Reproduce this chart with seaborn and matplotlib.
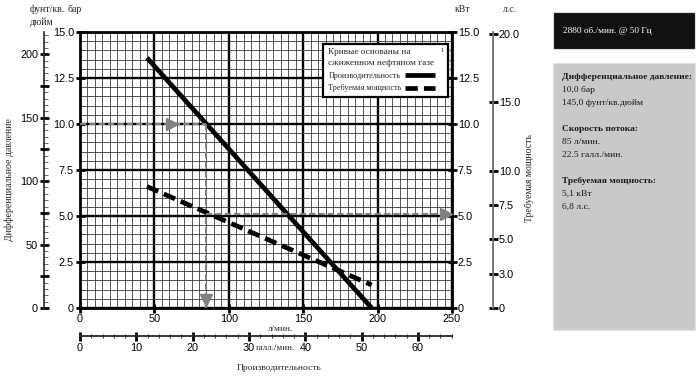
import matplotlib
matplotlib.use("Agg")
import matplotlib.pyplot as plt
import seaborn as sns
import pandas as pd
from matplotlib.ticker import MultipleLocator, FixedLocator, FixedFormatter, NullFormatter
from matplotlib.patches import Rectangle

sns.set_theme(style="white")
plt.rcParams['font.family'] = ['Liberation Sans', 'DejaVu Sans']
SERIF = ['Liberation Serif', 'DejaVu Serif']

# ---- data ----
flow_lpm = [45, 196]
pressure_bar = [13.6, 0.0]
power_kw = [6.6, 1.25]
duty_flow = 85
duty_bar = 10.0
duty_kw = 5.1

flow_ticks = [0, 50, 100, 150, 200, 250]
bar_ticks = [0, 2.5, 5, 7.5, 10, 12.5, 15]
bar_labels = ["0", "2.5", "5.0", "7.5", "10.0", "12.5", "15.0"]
psi_ticks = [0, 50, 100, 150, 200]
psi_mid_ticks = [25, 75, 125, 175]
hp_ticks = [0, 2.5, 5, 7.5, 10, 15, 20]
hp_labels = ["0", "3.0", "5.0", "7.5", "10.0", "15.0", "20.0"]
gal_ticks = [0, 10, 20, 30, 40, 50, 60]

BAR_TO_PSI = 14.5038
KW_TO_HP = 1.341
LPM_TO_GPM = 1 / 3.78541

W, H = 700, 376
PX = 0.72  # points per pixel at dpi 100
TL = 9 * PX
NUM = 7.8
fig = plt.figure(figsize=(W / 100, H / 100), dpi=100)
ax = fig.add_axes([80 / W, (H - 308) / H, 372 / W, 276 / H])
ax.set_xlim(0, 250)
ax.set_ylim(0, 15)

# grid
ax.xaxis.set_minor_locator(MultipleLocator(5))
ax.yaxis.set_minor_locator(MultipleLocator(0.5))
ax.grid(which='minor', color='#3a3a3a', lw=0.6)
ax.grid(which='major', color='black', lw=1.7)
ax.set_axisbelow(True)
for s in ax.spines.values():
    s.set_color('black')
    s.set_linewidth(2)

ax.xaxis.set_major_locator(FixedLocator(flow_ticks))
ax.xaxis.set_major_formatter(FixedFormatter([str(t) for t in flow_ticks]))
ax.yaxis.set_major_locator(FixedLocator(bar_ticks))
ax.yaxis.set_major_formatter(FixedFormatter(bar_labels))
ax.tick_params(which='major', direction='inout', length=TL, width=2, color='black',
               labelsize=NUM, pad=1, labelcolor='black')
ax.tick_params(which='minor', length=0)

# kW axis (right, same scale)
ax_kw = ax.twinx()
ax_kw.set_ylim(0, 15)
ax_kw.yaxis.set_major_locator(FixedLocator(bar_ticks))
ax_kw.yaxis.set_major_formatter(FixedFormatter(bar_labels))
ax_kw.tick_params(which='major', direction='inout', length=TL, width=2, color='black',
                  labelsize=NUM, pad=1, labelcolor='black')
for k, s in ax_kw.spines.items():
    s.set_visible(False)

# curves
df_perf = pd.DataFrame({"flow": flow_lpm, "val": pressure_bar})
df_pow = pd.DataFrame({"flow": flow_lpm, "val": power_kw})
sns.lineplot(data=df_perf, x="flow", y="val", ax=ax, color='black', lw=3.4,
             label="Производительность", legend=False, solid_capstyle='butt')
sns.lineplot(data=df_pow, x="flow", y="val", ax=ax_kw, color='black', lw=3.4,
             label="Требуемая мощность", legend=False)
ax_kw.lines[0].set_dashes((2.6, 1.3))
ax.set_xlabel(""); ax.set_ylabel("")
ax_kw.set_xlabel(""); ax_kw.set_ylabel("")

# duty point guide arrows
g = '#808080'
ax.plot([0, duty_flow], [duty_bar, duty_bar], color=g, lw=1.5, ls=(0, (3, 1.5)), zorder=3)
ax.plot([duty_flow, duty_flow], [duty_bar, 0], color=g, lw=1.5, ls=(0, (3, 1.5)), zorder=3)
ax.plot([62], [duty_bar], marker='>', color=g, ms=8, zorder=4)
ax.plot([duty_flow], [0.45], marker='v', color=g, ms=8, zorder=4)
ax_kw.plot([duty_flow, 250], [duty_kw, duty_kw], color=g, lw=1.5, ls=(0, (3, 1.5)), zorder=3)
ax_kw.plot([246], [duty_kw], marker='>', color=g, ms=8, zorder=4)

# legend
h1, l1 = ax.get_legend_handles_labels()
h2, l2 = ax_kw.get_legend_handles_labels()
leg = ax_kw.legend(h1 + h2, l1 + l2, loc='upper right', bbox_to_anchor=(0.99, 0.957),
                   borderaxespad=0,
                   title="Кривые основаны на             ¹\nсжиженном нефтяном газе",
                   markerfirst=False, fancybox=False, framealpha=1, edgecolor='black',
                   prop={'family': SERIF, 'size': 5.9}, handlelength=3.6,
                   handletextpad=0.5, borderpad=0.55, labelspacing=0.55,
                   alignment='left')
leg.get_title().set_fontfamily(SERIF)
leg.get_title().set_fontsize(6.7)
leg.get_title().set_linespacing(1.5)
leg.get_frame().set_linewidth(1.6)
leg.set_zorder(10)

# psi axis (outer left)
ax_psi = ax.twinx()
ax_psi.set_ylim(0, 15 * BAR_TO_PSI)
for k, s in ax_psi.spines.items():
    s.set_visible(k == 'left')
ax_psi.spines['left'].set_position(('outward', 36 * PX))
ax_psi.spines['left'].set_linewidth(1.2)
ax_psi.yaxis.set_ticks_position('left')
ax_psi.yaxis.set_major_locator(FixedLocator(psi_ticks))
ax_psi.yaxis.set_major_formatter(FixedFormatter([str(t) for t in psi_ticks]))
ax_psi.yaxis.set_minor_locator(MultipleLocator(5))
ax_psi.tick_params(which='major', direction='inout', length=TL, width=2,
                   labelsize=NUM, pad=1, color='black', labelcolor='black')
ax_psi.tick_params(which='minor', direction='in', length=3, width=0.7, color='#666666')

# medium psi ticks at 25-multiples (no labels)
ax_psi2 = ax.twinx()
ax_psi2.set_ylim(0, 15 * BAR_TO_PSI)
for k, s in ax_psi2.spines.items():
    s.set_visible(False)
ax_psi2.spines['left'].set_position(('outward', 36 * PX))
ax_psi2.yaxis.set_ticks_position('left')
ax_psi2.yaxis.set_major_locator(FixedLocator(psi_mid_ticks))
ax_psi2.yaxis.set_major_formatter(NullFormatter())
ax_psi2.tick_params(which='major', direction='inout', length=TL, width=2, color='black')

# hp axis (outer right)
ax_hp = ax.twinx()
ax_hp.set_ylim(0, 15 * KW_TO_HP)
for k, s in ax_hp.spines.items():
    s.set_visible(k == 'right')
ax_hp.spines['right'].set_position(('outward', 41 * PX))
ax_hp.spines['right'].set_color('#707070')
ax_hp.spines['right'].set_linewidth(1.3)
ax_hp.yaxis.set_major_locator(FixedLocator(hp_ticks))
ax_hp.yaxis.set_major_formatter(FixedFormatter(hp_labels))
ax_hp.tick_params(which='major', direction='inout', length=TL, width=2, color='black',
                  labelsize=NUM, pad=1, labelcolor='black')

# gal/min axis (outer bottom)
ax_gal = ax.twiny()
ax_gal.set_xlim(0, 250 * LPM_TO_GPM)
for k, s in ax_gal.spines.items():
    s.set_visible(k == 'bottom')
ax_gal.spines['bottom'].set_position(('outward', 28 * PX))
ax_gal.spines['bottom'].set_linewidth(1.3)
ax_gal.xaxis.set_ticks_position('bottom')
ax_gal.xaxis.set_major_locator(FixedLocator(gal_ticks))
ax_gal.xaxis.set_major_formatter(FixedFormatter([str(t) for t in gal_ticks]))
ax_gal.xaxis.set_minor_locator(MultipleLocator(2))
ax_gal.tick_params(which='major', direction='inout', length=TL, width=2, color='black',
                   labelsize=NUM, pad=2, labelcolor='black')
ax_gal.tick_params(which='minor', direction='inout', length=3, width=0.8, color='#333333')

# texts
def ftxt(x, y, s, **kw):
    fig.text(x / W, 1 - y / H, s, family=SERIF, **kw)

ftxt(30, 9, "фунт/кв.", fontsize=7, va='center')
ftxt(68, 9, "бар", fontsize=7, va='center')
ftxt(30, 22, "дюйм", fontsize=7, va='center')
ftxt(455, 10, "кВт", fontsize=7, va='center')
ftxt(503, 10, "л.с.", fontsize=7, va='center')
ftxt(9, 180, "Дифференциальное давление", fontsize=7, rotation=90, ha='center', va='center')
ftxt(529, 178, "Требуемая мощность", fontsize=7, rotation=90, ha='center', va='center')
ftxt(281, 329, "л/мин.", fontsize=6.6, ha='center', va='center')
ftxt(275, 348, "галл./мин.", fontsize=6.4, ha='center', va='center')
ftxt(279, 368, "Производительность", fontsize=6.8, ha='center', va='center')

# right info panel
fig.patches.append(Rectangle((553 / W, 1 - 49 / H), 142 / W, 37 / H, transform=fig.transFigure,
                             facecolor='#111111', edgecolor='#dddddd', lw=0.8))
fig.patches.append(Rectangle((553 / W, 1 - 330 / H), 142 / W, 267 / H, transform=fig.transFigure,
                             facecolor='#c9c9c9', edgecolor='#e0e0e0', lw=0.8))
ftxt(563, 31, "2880 об./мин. @ 50 Гц", fontsize=6.7, color='white', va='center')
info = [
    ("Дифференциальное давление:", True, 77),
    ("10,0 бар", False, 90),
    ("145,0 фунт/кв.дюйм", False, 103),
    ("Скорость потока:", True, 129),
    ("85 л/мин.", False, 142),
    ("22.5 галл./мин.", False, 155),
    ("Требуемая мощность:", True, 181),
    ("5,1 кВт", False, 194),
    ("6,8 л.с.", False, 207),
]
for s, b, y in info:
    ftxt(562, y, s, fontsize=6.8, va='center', color='#1a1a1a',
         fontweight='bold' if b else 'normal')

fig.savefig("out.png", dpi=100, facecolor='white')
